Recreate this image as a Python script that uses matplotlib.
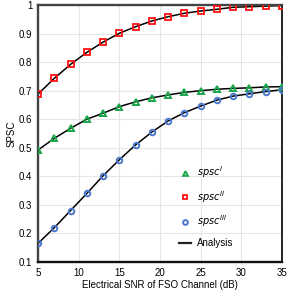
import matplotlib
matplotlib.use("Agg")
import matplotlib.pyplot as plt

# data
snr_db = [5, 7, 9, 11, 13, 15, 17, 19, 21, 23, 25, 27, 29, 31, 33, 35]
spsc_1 = [0.492, 0.533, 0.568, 0.600, 0.621, 0.644, 0.661, 0.675, 0.685,
          0.694, 0.700, 0.705, 0.708, 0.710, 0.713, 0.714]
spsc_2 = [0.688, 0.743, 0.792, 0.834, 0.870, 0.901, 0.924, 0.944, 0.959,
          0.971, 0.979, 0.985, 0.992, 0.994, 0.996, 0.998]
spsc_3 = [0.165, 0.220, 0.280, 0.340, 0.402, 0.458, 0.510, 0.555, 0.594,
          0.623, 0.646, 0.667, 0.681, 0.689, 0.697, 0.703]
x_ticks = [5, 10, 15, 20, 25, 30, 35]
y_ticks = [0.1, 0.2, 0.3, 0.4, 0.5, 0.6, 0.7, 0.8, 0.9, 1.0]
y_labels = ["0.1", "0.2", "0.3", "0.4", "0.5", "0.6", "0.7", "0.8", "0.9", "1"]

plt.rcParams['font.family'] = ['Liberation Sans', 'DejaVu Sans']

fig = plt.figure(figsize=(2.91, 2.92), dpi=100)
ax = fig.add_axes([38 / 291, 30 / 292, 244 / 291, 257 / 292])

# analysis curves
for vals in (spsc_1, spsc_2, spsc_3):
    ax.plot(snr_db, vals, color='black', lw=1.1, zorder=2)

ax.plot(snr_db, spsc_1, ls='none', marker='^', ms=4, mfc='none',
        mec='#1aa64a', mew=1.4, zorder=3, label=r'$\mathit{spsc}^{I}$')
ax.plot(snr_db, spsc_2, ls='none', marker='s', ms=4, mfc='none',
        mec='#ff1010', mew=1.3, zorder=3, label=r'$\mathit{spsc}^{II}$')
ax.plot(snr_db, spsc_3, ls='none', marker='o', ms=4, mfc='none',
        mec='#4a78cc', mew=1.4, zorder=3, label=r'$\mathit{spsc}^{III}$')
ax.plot([], [], color='#222222', lw=1.6, label='Analysis')

ax.set_xlim(5, 35)
ax.set_ylim(0.1, 1.0)
ax.set_xticks(x_ticks)
ax.set_yticks(y_ticks)
ax.set_yticklabels(y_labels)
ax.tick_params(length=0, labelsize=7, pad=4)
ax.grid(True, color='#e6e6e6', lw=0.8)
ax.set_axisbelow(True)
for side in ('left', 'top'):
    ax.spines[side].set_color('#444444')
    ax.spines[side].set_linewidth(1.7)
ax.spines['bottom'].set_color('#111111')
ax.spines['bottom'].set_linewidth(1.7)
ax.spines['right'].set_color('black')
ax.spines['right'].set_linewidth(1.2)

ax.set_xlabel('Electrical SNR of FSO Channel (dB)', fontsize=7, labelpad=2)
ax.set_ylabel('SPSC', fontsize=7, labelpad=2)

leg = ax.legend(loc='lower left', bbox_to_anchor=(0.54, 0.02), frameon=False,
                fontsize=7, labelspacing=0.9, handlelength=1.3,
                handletextpad=0.6, markerscale=0.85)

fig.savefig('out.png', dpi=100)
